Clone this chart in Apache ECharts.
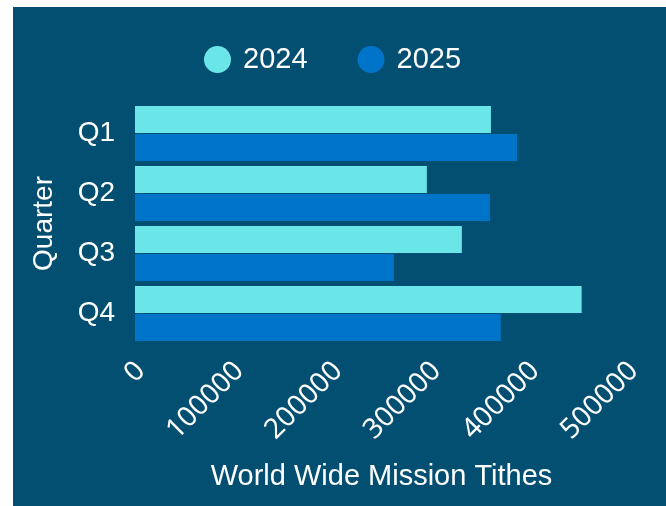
<!DOCTYPE html>
<html>
<head>
<meta charset="utf-8">
<script src="https://cdn.jsdelivr.net/npm/echarts@6/dist/echarts.min.js"></script>
<style>
html,body{margin:0;padding:0;background:#ffffff;width:666px;height:506px;overflow:hidden;}
#chart{position:absolute;left:13px;top:7px;width:653px;height:499px;}
</style>
</head>
<body>
<div id="chart"></div>
<script>
const categories = ['Q1', 'Q2', 'Q3', 'Q4'];
const series2024 = [361000, 296000, 331500, 453000];
const series2025 = [387500, 360000, 262500, 371000];
const xTicks = { min: 0, max: 500000, interval: 100000 };

const chart = echarts.init(document.getElementById('chart'), null, { renderer: 'canvas' });
const sansFont = '"Liberation Sans", Arial, sans-serif';
chart.setOption({
  backgroundColor: '#034f71',
  animation: false,
  legend: {
    top: 33,
    left: 186,
    icon: 'circle',
    itemWidth: 27,
    itemHeight: 27,
    itemGap: 50,
    textStyle: { color: '#ffffff', fontSize: 29, fontFamily: sansFont, padding: [0, 0, 0, 7] },
    data: ['2024', '2025']
  },
  grid: { left: 122, right: 38, top: 96.5, bottom: 162.5, containLabel: false },
  xAxis: {
    type: 'value',
    min: xTicks.min,
    max: xTicks.max,
    interval: xTicks.interval,
    name: 'World Wide Mission Tithes',
    nameLocation: 'middle',
    nameGap: 119,
    nameTextStyle: { color: '#ffffff', fontSize: 29, fontFamily: sansFont },
    axisLine: { show: false },
    axisTick: { show: false },
    splitLine: { show: false },
    axisLabel: {
      color: '#ffffff', rotate: 45, fontSize: 28, fontFamily: '"Noto Sans", sans-serif',
      margin: 9, verticalAlign: 'top', padding: [0, 6, 0, 0],
      formatter: function (v) { return String(v); }
    }
  },
  yAxis: {
    type: 'category',
    inverse: true,
    data: categories,
    name: 'Quarter',
    nameLocation: 'middle',
    nameGap: 77,
    nameTextStyle: { color: '#ffffff', fontSize: 28, fontFamily: sansFont },
    axisLine: { show: false },
    axisTick: { show: false },
    axisLabel: { color: '#ffffff', fontSize: 28, fontFamily: sansFont, margin: 20 }
  },
  series: [
    { name: '2024', type: 'bar', data: series2024, itemStyle: { color: '#6ae6e8' }, barGap: '4%', barCategoryGap: '8%' },
    { name: '2025', type: 'bar', data: series2025, itemStyle: { color: '#0074c9' }, barGap: '4%', barCategoryGap: '8%' }
  ]
});
</script>
</body>
</html>
